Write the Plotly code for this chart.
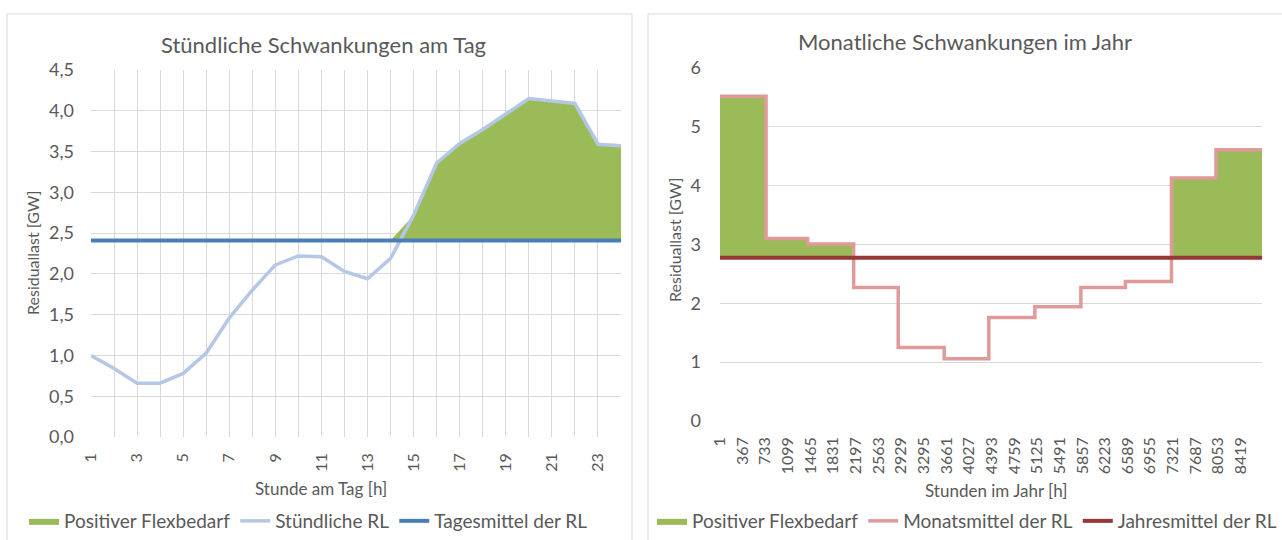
import plotly.graph_objects as go

W, H = 1282, 540

# Hourly residual load over one day [GW]
hours = list(range(1, 25))
rl_hourly = [1.00, 0.84, 0.66, 0.66, 0.78, 1.03, 1.46, 1.80, 2.11, 2.22, 2.21, 2.03,
             1.94, 2.19, 2.72, 3.36, 3.60, 3.77, 3.96, 4.15, 4.12, 4.09, 3.59, 3.57]

# Monthly mean residual load over the year [GW], steps start at these hours
month_start = [1, 745, 1417, 2161, 2881, 3625, 4345, 5089, 5833, 6553, 7297, 8017]
year_end = 8760
rl_monthly = [5.52, 3.10, 3.01, 2.27, 1.25, 1.06, 1.76, 1.94, 2.27, 2.37, 4.13, 4.61]
month_len = [month_start[i + 1] - month_start[i] for i in range(11)] + [year_end - month_start[-1] + 1]

year_ticks = list(range(1, year_end, 366))

day_mean = sum(rl_hourly) / len(rl_hourly)
year_mean = sum(v * n for v, n in zip(rl_monthly, month_len)) / sum(month_len)

flex_day = [day_mean + max(v - day_mean, 0) for v in rl_hourly]
step_x = month_start + [year_end]
step_y = rl_monthly + [rl_monthly[-1]]
flex_year = [max(v, year_mean) for v in step_y]

GREEN = "#9BBB59"
LIGHT_BLUE = "#B4C7E7"
BLUE = "#4A7EBB"
ROSE = "#E09A99"
DARK_RED = "#953735"
GRID = "#D9D9D9"
TEXT = "#595959"
FONT = "Lato"

fig = go.Figure()

# ---- left panel: hours of the day ----
fig.add_trace(go.Scatter(x=hours, y=[day_mean] * 24, mode="lines", line=dict(width=0, color="rgba(0,0,0,0)"),
                         showlegend=False, hoverinfo="skip", xaxis="x", yaxis="y"))
fig.add_trace(go.Scatter(x=hours, y=flex_day, mode="lines", fill="tonexty", fillcolor=GREEN,
                         line=dict(width=0, color=GREEN), name="Positiver Flexbedarf",
                         legend="legend", xaxis="x", yaxis="y"))
fig.add_trace(go.Scatter(x=hours, y=rl_hourly, mode="lines", line=dict(width=3.5, color=LIGHT_BLUE),
                         name="Stündliche RL", legend="legend", xaxis="x", yaxis="y"))
fig.add_trace(go.Scatter(x=hours, y=[day_mean] * 24, mode="lines", line=dict(width=4, color=BLUE),
                         name="Tagesmittel der RL", legend="legend", xaxis="x", yaxis="y"))

# ---- right panel: hours of the year ----
fig.add_trace(go.Scatter(x=step_x, y=[year_mean] * len(step_x), mode="lines",
                         line=dict(width=0, color="rgba(0,0,0,0)"), showlegend=False, hoverinfo="skip",
                         xaxis="x2", yaxis="y2"))
fig.add_trace(go.Scatter(x=step_x, y=flex_year, mode="lines", line_shape="hv", fill="tonexty",
                         fillcolor=GREEN, line=dict(width=0, color=GREEN), name="Positiver Flexbedarf",
                         legend="legend2", xaxis="x2", yaxis="y2"))
fig.add_trace(go.Scatter(x=step_x, y=step_y, mode="lines", line_shape="hv", line=dict(width=3.5, color=ROSE),
                         name="Monatsmittel der RL", legend="legend2", xaxis="x2", yaxis="y2"))
fig.add_trace(go.Scatter(x=[1, year_end], y=[year_mean, year_mean], mode="lines",
                         line=dict(width=4, color=DARK_RED), name="Jahresmittel der RL",
                         legend="legend2", xaxis="x2", yaxis="y2"))


def px_x(p):
    return p / W


def px_y(p):
    return 1 - p / H


base_axis = dict(showline=False, ticks="", gridcolor=GRID, gridwidth=1, zeroline=False, automargin=False)
x_font = dict(family=FONT, size=16, color=TEXT)
y_font = dict(family=FONT, size=18, color=TEXT)


def note(text, x, y, size, angle=0):
    return dict(text=text, x=px_x(x), y=px_y(y), xref="paper", yref="paper", xanchor="center",
                yanchor="middle", textangle=angle, showarrow=False,
                font=dict(family=FONT, size=size, color=TEXT))


legend_style = dict(orientation="h", yanchor="bottom", y=0.0,
                    traceorder="normal", font=dict(family=FONT, size=19, color=TEXT),
                    bgcolor="rgba(0,0,0,0)")

fig.update_layout(
    width=W, height=H, margin=dict(l=0, r=0, t=0, b=0),
    paper_bgcolor="white", plot_bgcolor="white",
    separators=",.",
    font=dict(family=FONT, color=TEXT),
    xaxis=dict(domain=[px_x(91), px_x(621)], range=[1, 24], tickvals=hours,
               ticktext=[str(h) if h % 2 else "" for h in hours], tickangle=-90, showgrid=True,
               ticklabelstandoff=12, tickfont=x_font, anchor="y", **base_axis),
    yaxis=dict(domain=[px_y(437), px_y(70)], range=[0, 4.5], dtick=0.5, tick0=0, tickformat=".1f",
               showgrid=True, ticklabelstandoff=16, tickfont=y_font, anchor="x", **base_axis),
    xaxis2=dict(domain=[px_x(720), px_x(1262)], range=[1, year_end], tickvals=year_ticks,
                ticktext=[str(t) for t in year_ticks], tickangle=-90, showgrid=False,
                ticklabelstandoff=12, tickfont=x_font, anchor="y2", **base_axis),
    yaxis2=dict(domain=[px_y(421), px_y(68)], range=[0, 6], dtick=1, tick0=0, showgrid=True,
                ticklabelstandoff=18, tickfont=y_font, anchor="x2", **base_axis),
    legend=dict(x=px_x(24), xanchor="left", **legend_style),
    legend2=dict(x=1.0, xanchor="right", **legend_style),
    shapes=[
        dict(type="rect", xref="paper", yref="paper", x0=px_x(7), x1=px_x(632), y0=-0.05, y1=px_y(14),
             line=dict(color=GRID, width=1), layer="below"),
        dict(type="rect", xref="paper", yref="paper", x0=px_x(648), x1=1.05, y0=-0.05, y1=px_y(14),
             line=dict(color=GRID, width=1), layer="below"),
    ],
    annotations=[
        note("Stündliche Schwankungen am Tag", 323, 44, 22),
        note("Monatliche Schwankungen im Jahr", 965, 42, 22),
        note("Residuallast [GW]", 32, 253, 16, -90),
        note("Residuallast [GW]", 674, 240, 16, -90),
        note("Stunde am Tag [h]", 321, 488, 17),
        note("Stunden im Jahr [h]", 996, 490, 17),
    ],
)

fig.write_html("out.html")
